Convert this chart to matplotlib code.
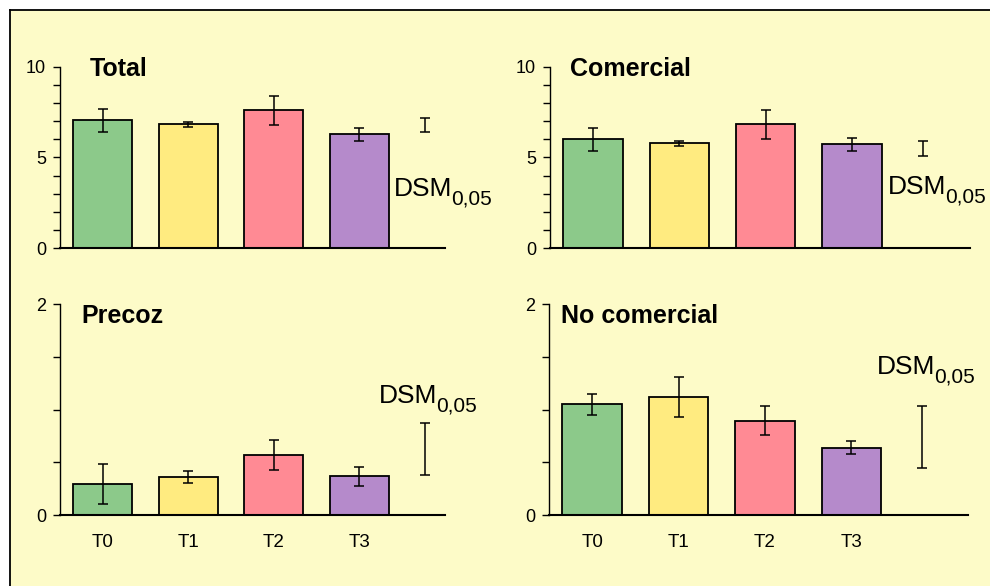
import matplotlib
matplotlib.use("Agg")
import matplotlib.pyplot as plt
from matplotlib.patches import Rectangle
from matplotlib.lines import Line2D
from matplotlib.ticker import MultipleLocator, FixedLocator

plt.rcParams['font.family'] = ['Liberation Sans', 'DejaVu Sans']

categories = ["T0", "T1", "T2", "T3"]
colors = ["#8cc98a", "#ffeb80", "#ff8a94", "#b58acb"]

# valores medios y error de cada grupo
total = [7.05, 6.83, 7.6, 6.28]
total_err = [0.64, 0.14, 0.8, 0.35]
comercial = [6.0, 5.78, 6.83, 5.72]
comercial_err = [0.62, 0.15, 0.8, 0.34]
precoz = [0.29, 0.36, 0.57, 0.37]
precoz_err = [0.19, 0.06, 0.14, 0.09]
no_comercial = [1.05, 1.12, 0.896, 0.64]
no_comercial_err = [0.097, 0.19, 0.14, 0.06]

# DSM 0,05: centro y semiamplitud de la barra
dsm_total = (6.79, 0.37)
dsm_comercial = (5.5, 0.42)
dsm_precoz = (0.625, 0.245)
dsm_no_comercial = (0.74, 0.29)

W, H = 990, 586
fig = plt.figure(figsize=(9.9, 5.86), dpi=100, facecolor="white")

# fondo amarillo con marco arriba e izquierda
fig.patches.append(Rectangle((10 / W, 0), 1, 1 - 10 / H, transform=fig.transFigure,
                             facecolor="#fdfbc8", edgecolor="none", zorder=-10))
fig.lines.append(Line2D([10 / W, 1], [1 - 10 / H, 1 - 10 / H], transform=fig.transFigure,
                        color="black", lw=1.3, zorder=-5))
fig.lines.append(Line2D([10 / W, 10 / W], [0, 1 - 10 / H], transform=fig.transFigure,
                        color="black", lw=1.3, zorder=-5))


def make_ax(x0, x1, ytop, ybot):
    return fig.add_axes([x0 / W, 1 - ybot / H, (x1 - x0) / W, (ybot - ytop) / H])


ax1 = make_ax(60, 445, 66.7, 248.3)
ax2 = make_ax(550, 970, 66.7, 248.3)
ax3 = make_ax(60, 445, 304.3, 515)
ax4 = make_ax(549, 968, 304.3, 515)

panels = [
    (ax1, "Total", total, total_err, dsm_total, 10, 3.77, (-0.15, 9.49), (3.4, 2.9), 4.0),
    (ax2, "Comercial", comercial, comercial_err, dsm_comercial, 10, 3.82, (-0.27, 9.49), (3.42, 3.0), 4.37),
    (ax3, "Precoz", precoz, precoz_err, dsm_precoz, 2, 3.77, (-0.25, 1.82), (3.23, 1.06), 4.0),
    (ax4, "No comercial", no_comercial, no_comercial_err, dsm_no_comercial, 2, 3.82, (-0.36, 1.82), (3.3, 1.34), 4.35),
]

x = list(range(len(categories)))
for i, (ax, title, vals, errs, dsm, ymax, dsm_x, tpos, lpos, xmax) in enumerate(panels):
    ax.set_facecolor("none")
    ax.bar(x, vals, width=0.69, color=colors, edgecolor="black", linewidth=1.3, zorder=2)
    ax.errorbar(x, vals, yerr=errs, fmt="none", ecolor="black", elinewidth=1.1,
                capsize=3.6, capthick=1.1, zorder=3)
    ax.errorbar([dsm_x], [dsm[0]], yerr=[dsm[1]], fmt="none", ecolor="black",
                elinewidth=1.1, capsize=3.6, capthick=1.1)
    ax.set_xlim(-0.5, xmax)
    ax.set_ylim(0, ymax)
    for s in ["top", "right"]:
        ax.spines[s].set_visible(False)
    ax.spines["left"].set_linewidth(1.0)
    ax.spines["bottom"].set_linewidth(1.5)
    if ymax == 10:
        ax.yaxis.set_major_locator(FixedLocator([0, 5, 10]))
        ax.yaxis.set_minor_locator(MultipleLocator(1))
    else:
        ax.yaxis.set_major_locator(FixedLocator([0, 2]))
        ax.yaxis.set_minor_locator(MultipleLocator(0.5))
    ax.tick_params(axis="y", which="both", length=5, width=1.0, labelsize=13, pad=5)
    ax.tick_params(axis="x", length=0, labelsize=13.5, pad=14)
    ax.set_xticks(x)
    if i >= 2:
        ax.set_xticklabels(categories)
    else:
        ax.set_xticklabels([])
    ax.text(tpos[0], tpos[1], title, fontsize=18, fontweight="bold", ha="left", va="baseline")
    t = ax.text(lpos[0], lpos[1], "DSM", fontsize=19, ha="left", va="baseline", clip_on=False)
    ax.annotate("0,05", xy=(1.0, 0.0), xycoords=t, xytext=(-1, -2.5),
                textcoords="offset points", fontsize=15, ha="left", va="baseline",
                annotation_clip=False)

fig.savefig("out.png", dpi=100, facecolor=fig.get_facecolor())
